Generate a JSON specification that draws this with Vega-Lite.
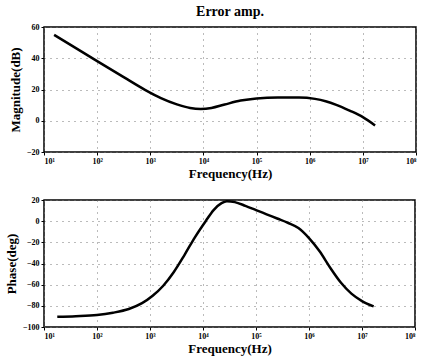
{
  "$schema": "https://vega.github.io/schema/vega-lite/v6.json",
  "background": "white",
  "padding": {"left": 4, "top": 4, "right": 6, "bottom": 2},
  "spacing": 14,
  "datasets": {
    "mag": [
      {"f": 15.5, "v": 55},
      {"f": 31.6, "v": 48.6},
      {"f": 100, "v": 38.2},
      {"f": 316, "v": 27.9},
      {"f": 794, "v": 19.8},
      {"f": 1585, "v": 14.5},
      {"f": 3162, "v": 10.5},
      {"f": 5623, "v": 8.2},
      {"f": 8913, "v": 7.6},
      {"f": 14125, "v": 8.2},
      {"f": 25119, "v": 10.4},
      {"f": 50119, "v": 12.9},
      {"f": 100000, "v": 14.3},
      {"f": 251189, "v": 14.9},
      {"f": 630957, "v": 14.9},
      {"f": 1258925, "v": 14.0},
      {"f": 1995262, "v": 12.5},
      {"f": 3162278, "v": 10.2},
      {"f": 5623413, "v": 6.5},
      {"f": 10000000, "v": 2.3},
      {"f": 16982437, "v": -3.0}
    ],
    "phase": [
      {"f": 17.8, "v": -90.3},
      {"f": 39.8, "v": -89.8},
      {"f": 100, "v": -88.7},
      {"f": 200, "v": -86.5},
      {"f": 398, "v": -83},
      {"f": 708, "v": -77.5},
      {"f": 1122, "v": -70.5},
      {"f": 1778, "v": -61},
      {"f": 2818, "v": -48},
      {"f": 4467, "v": -32},
      {"f": 7079, "v": -15},
      {"f": 11220, "v": 0},
      {"f": 15849, "v": 10.5},
      {"f": 22387, "v": 17},
      {"f": 28184, "v": 18.8},
      {"f": 39811, "v": 18},
      {"f": 63096, "v": 14.5},
      {"f": 100000, "v": 10.5},
      {"f": 158489, "v": 6.5},
      {"f": 251189, "v": 2.5},
      {"f": 398107, "v": -1.5},
      {"f": 630957, "v": -6.5},
      {"f": 1000000, "v": -16},
      {"f": 1584893, "v": -28.5},
      {"f": 2511886, "v": -44},
      {"f": 3981072, "v": -58},
      {"f": 6309573, "v": -68.5},
      {"f": 10000000, "v": -75.5},
      {"f": 16595869, "v": -80.5}
    ]
  },
  "config": {
    "font": "Liberation Serif",
    "view": {"stroke": "black", "strokeWidth": 1.5},
    "axis": {
      "labelFont": "Liberation Serif",
      "labelFontSize": 8,
      "labelFontWeight": "bold",
      "labelColor": "black",
      "titleFont": "Liberation Serif",
      "titleFontSize": 13,
      "titleFontWeight": "bold",
      "titleColor": "black",
      "domain": false,
      "tickColor": "black",
      "tickSize": 3,
      "grid": true,
      "gridColor": "#777",
      "gridDash": [1, 5],
      "gridWidth": 1
    }
  },
  "vconcat": [
    {
      "width": 372,
      "height": 125,
      "title": {"text": "Error amp.", "font": "Liberation Serif", "fontSize": 14, "fontWeight": "bold", "color": "black", "frame": "group", "offset": 4},
      "data": {"name": "mag"},
      "mark": {"type": "line", "color": "black", "strokeWidth": 2.5, "interpolate": "monotone"},
      "encoding": {
        "x": {
          "field": "f", "type": "quantitative",
          "scale": {"type": "log", "domain": [10, 100000000], "nice": false},
          "axis": {
            "values": [10, 100, 1000, 10000, 100000, 1000000, 10000000, 100000000],
            "labelExpr": "'10' + ['⁰','¹','²','³','⁴','⁵','⁶','⁷','⁸'][round(log(datum.value)/LN10)]",
            "title": "Frequency(Hz)",
            "titlePadding": 2,
            "labelPadding": 2
          }
        },
        "y": {
          "field": "v", "type": "quantitative",
          "scale": {"domain": [-20, 60], "nice": false},
          "axis": {"values": [-20, 0, 20, 40, 60], "title": "Magnitude(dB)", "titlePadding": 4}
        }
      }
    },
    {
      "width": 371,
      "height": 127,
      "data": {"name": "phase"},
      "mark": {"type": "line", "color": "black", "strokeWidth": 2.5, "interpolate": "monotone"},
      "encoding": {
        "x": {
          "field": "f", "type": "quantitative",
          "scale": {"type": "log", "domain": [10, 100000000], "nice": false},
          "axis": {
            "values": [10, 100, 1000, 10000, 100000, 1000000, 10000000, 100000000],
            "labelExpr": "'10' + ['⁰','¹','²','³','⁴','⁵','⁶','⁷','⁸'][round(log(datum.value)/LN10)]",
            "title": "Frequency(Hz)",
            "titlePadding": 2,
            "labelPadding": 2
          }
        },
        "y": {
          "field": "v", "type": "quantitative",
          "scale": {"domain": [-100, 20], "nice": false},
          "axis": {"values": [-100, -80, -60, -40, -20, 0, 20], "title": "Phase(deg)", "titlePadding": 4}
        }
      }
    }
  ]
}
